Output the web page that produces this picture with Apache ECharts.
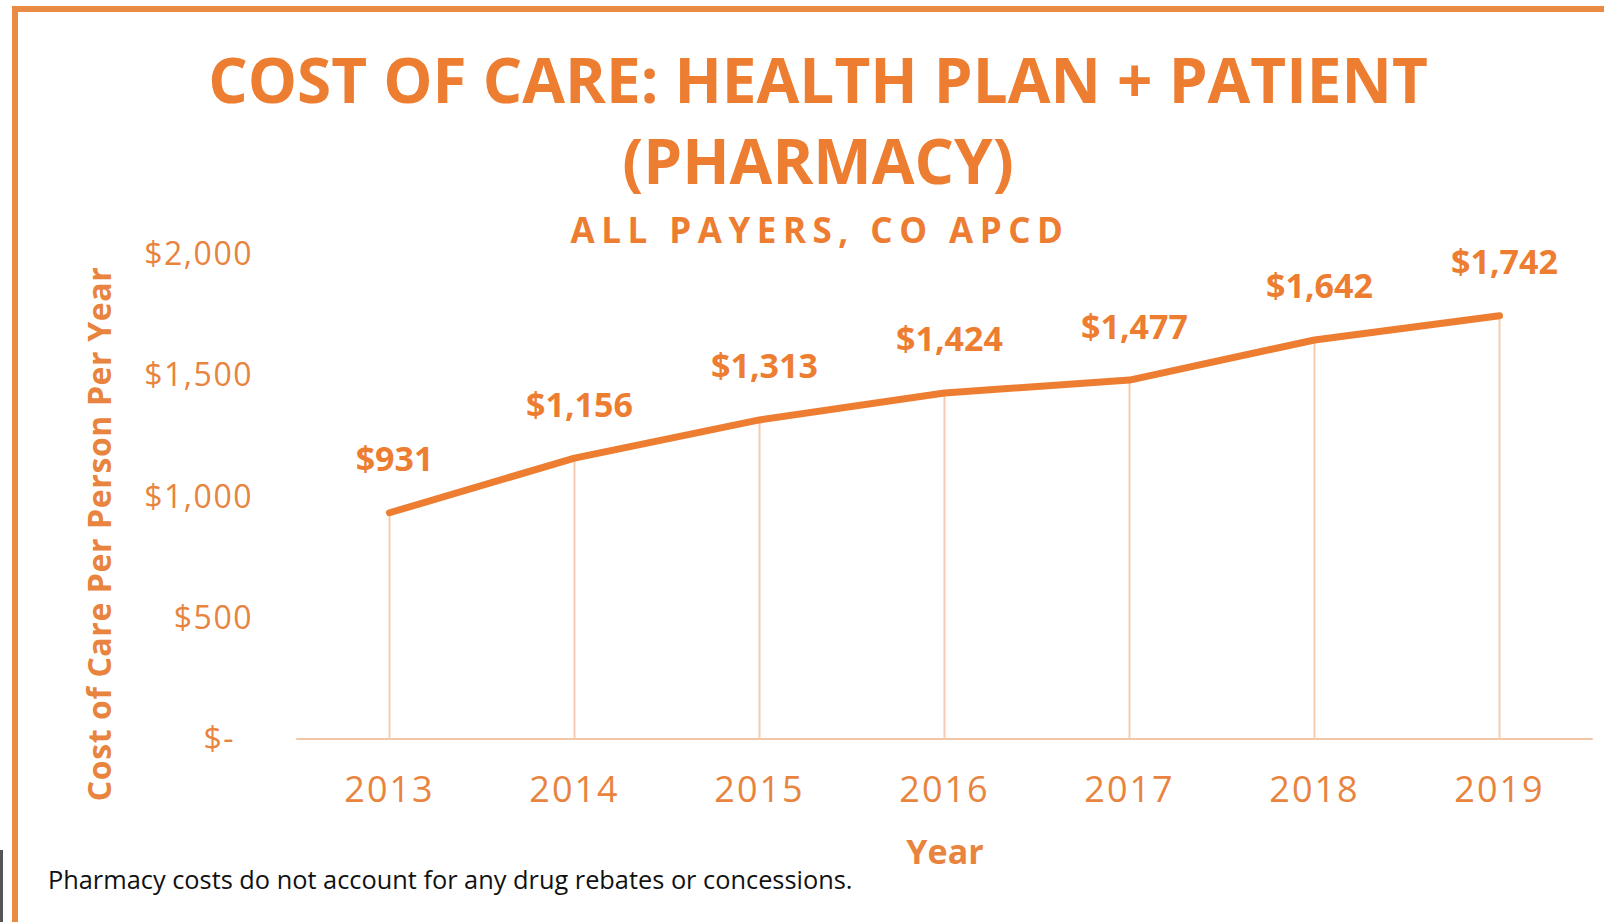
<!DOCTYPE html>
<html>
<head>
<meta charset="utf-8">
<script src="https://cdn.jsdelivr.net/npm/echarts@6/dist/echarts.min.js"></script>
<style>
html,body{margin:0;padding:0;background:#fff;}
#chart{width:1604px;height:922px;}
</style>
</head>
<body>
<div id="chart"></div>
<script>
const years = ['2013','2014','2015','2016','2017','2018','2019'];
const costPerPerson = [931, 1156, 1313, 1424, 1477, 1642, 1742];
const yTickLabels = ['$-', '$500', '$1,000', '$1,500', '$2,000'];
const titleLines = ['COST OF CARE: HEALTH PLAN + PATIENT', '(PHARMACY)'];
const subtitle = 'ALL PAYERS, CO APCD';
const yAxisTitle = 'Cost of Care Per Person Per Year';
const xAxisTitle = 'Year';
const footnote = 'Pharmacy costs do not account for any drug rebates or concessions.';

const ORANGE = '#ED7D31';
const LABEL = '#E8843E';
const FONT = '"Open Sans", "Noto Sans", sans-serif';

const chart = echarts.init(document.getElementById('chart'), null, { renderer: 'svg' });
chart.setOption({
  backgroundColor: '#fff',
  animation: false,
  grid: { left: 297, right: 12, top: 253, bottom: 183, containLabel: false },
  xAxis: {
    type: 'category',
    data: years,
    axisLine: { lineStyle: { color: '#F2C6A4', width: 2 } },
    axisTick: { show: false },
    axisLabel: { color: LABEL, fontFamily: FONT, fontSize: 36, margin: 31 }
  },
  yAxis: {
    type: 'value',
    min: 0, max: 2000, interval: 500,
    axisLine: { show: false },
    axisTick: { show: false },
    splitLine: { show: false },
    axisLabel: {
      color: LABEL, fontFamily: FONT, fontSize: 32, margin: 44,
      padding: [0, 0, 2, 0],
      formatter: function (v) {
        const s = yTickLabels[Math.round(v / 500)];
        return v === 0 ? '{z|' + s + '}' : s;
      },
      rich: { z: { color: LABEL, fontFamily: FONT, fontSize: 32, padding: [0, 18, 2, 0] } }
    }
  },
  series: [
    {
      type: 'bar',
      data: costPerPerson,
      barWidth: 2,
      itemStyle: { color: '#F5CDAE' },
      silent: true,
      z: 1
    },
    {
      type: 'line',
      data: costPerPerson,
      symbol: 'circle',
      symbolSize: 1,
      showSymbol: true,
      itemStyle: { color: ORANGE },
      lineStyle: { color: ORANGE, width: 7, cap: 'round', join: 'round' },
      z: 3,
      label: {
        show: true,
        position: 'top',
        distance: 37,
        offset: [5, 0],
        color: ORANGE,
        fontFamily: FONT,
        fontWeight: 'bold',
        fontSize: 34,
        formatter: function (p) { return '$' + p.value.toLocaleString('en-US'); }
      }
    }
  ],
  graphic: [
    { type: 'rect', shape: { x: 12, y: 6, width: 1592, height: 6 }, style: { fill: '#E98A45' }, silent: true },
    { type: 'rect', shape: { x: 12, y: 6, width: 6, height: 916 }, style: { fill: '#E98A45' }, silent: true },
    { type: 'rect', shape: { x: 0, y: 850, width: 3, height: 72 }, style: { fill: '#555' }, silent: true },
    { type: 'text', x: 818, y: 79, style: { text: titleLines[0], fill: ORANGE, font: 'bold 62px ' + FONT, textAlign: 'center', textVerticalAlign: 'middle' } },
    { type: 'text', x: 818, y: 160, style: { text: titleLines[1], fill: ORANGE, font: 'bold 62px ' + FONT, textAlign: 'center', textVerticalAlign: 'middle' } },
    { type: 'text', x: 820, y: 229, style: { text: subtitle, fill: ORANGE, font: 'bold 35px ' + FONT, textAlign: 'center', textVerticalAlign: 'middle' } },
    { type: 'text', x: 98, y: 534, rotation: Math.PI / 2, style: { text: yAxisTitle, fill: LABEL, font: 'bold 32px ' + FONT, textAlign: 'center', textVerticalAlign: 'middle' } },
    { type: 'text', x: 945, y: 851, style: { text: xAxisTitle, fill: LABEL, font: 'bold 34px ' + FONT, textAlign: 'center', textVerticalAlign: 'middle' } },
    { type: 'text', x: 48, y: 879, style: { text: footnote, fill: '#111', font: '25.35px ' + FONT, textAlign: 'left', textVerticalAlign: 'middle' } }
  ]
});

// letter tracking, as in the original artwork
function track() {
  const spacing = {};
  spacing[subtitle] = '6.5px';
  spacing[yAxisTitle] = '0.6px';
  years.forEach(function (y) { spacing[y] = '2px'; });
  yTickLabels.forEach(function (t) { spacing[t] = '1.5px'; });
  document.querySelectorAll('#chart svg text').forEach(function (el) {
    const s = spacing[el.textContent];
    if (s) el.style.letterSpacing = s;
  });
}
track();
chart.on('finished', track);
</script>
</body>
</html>
